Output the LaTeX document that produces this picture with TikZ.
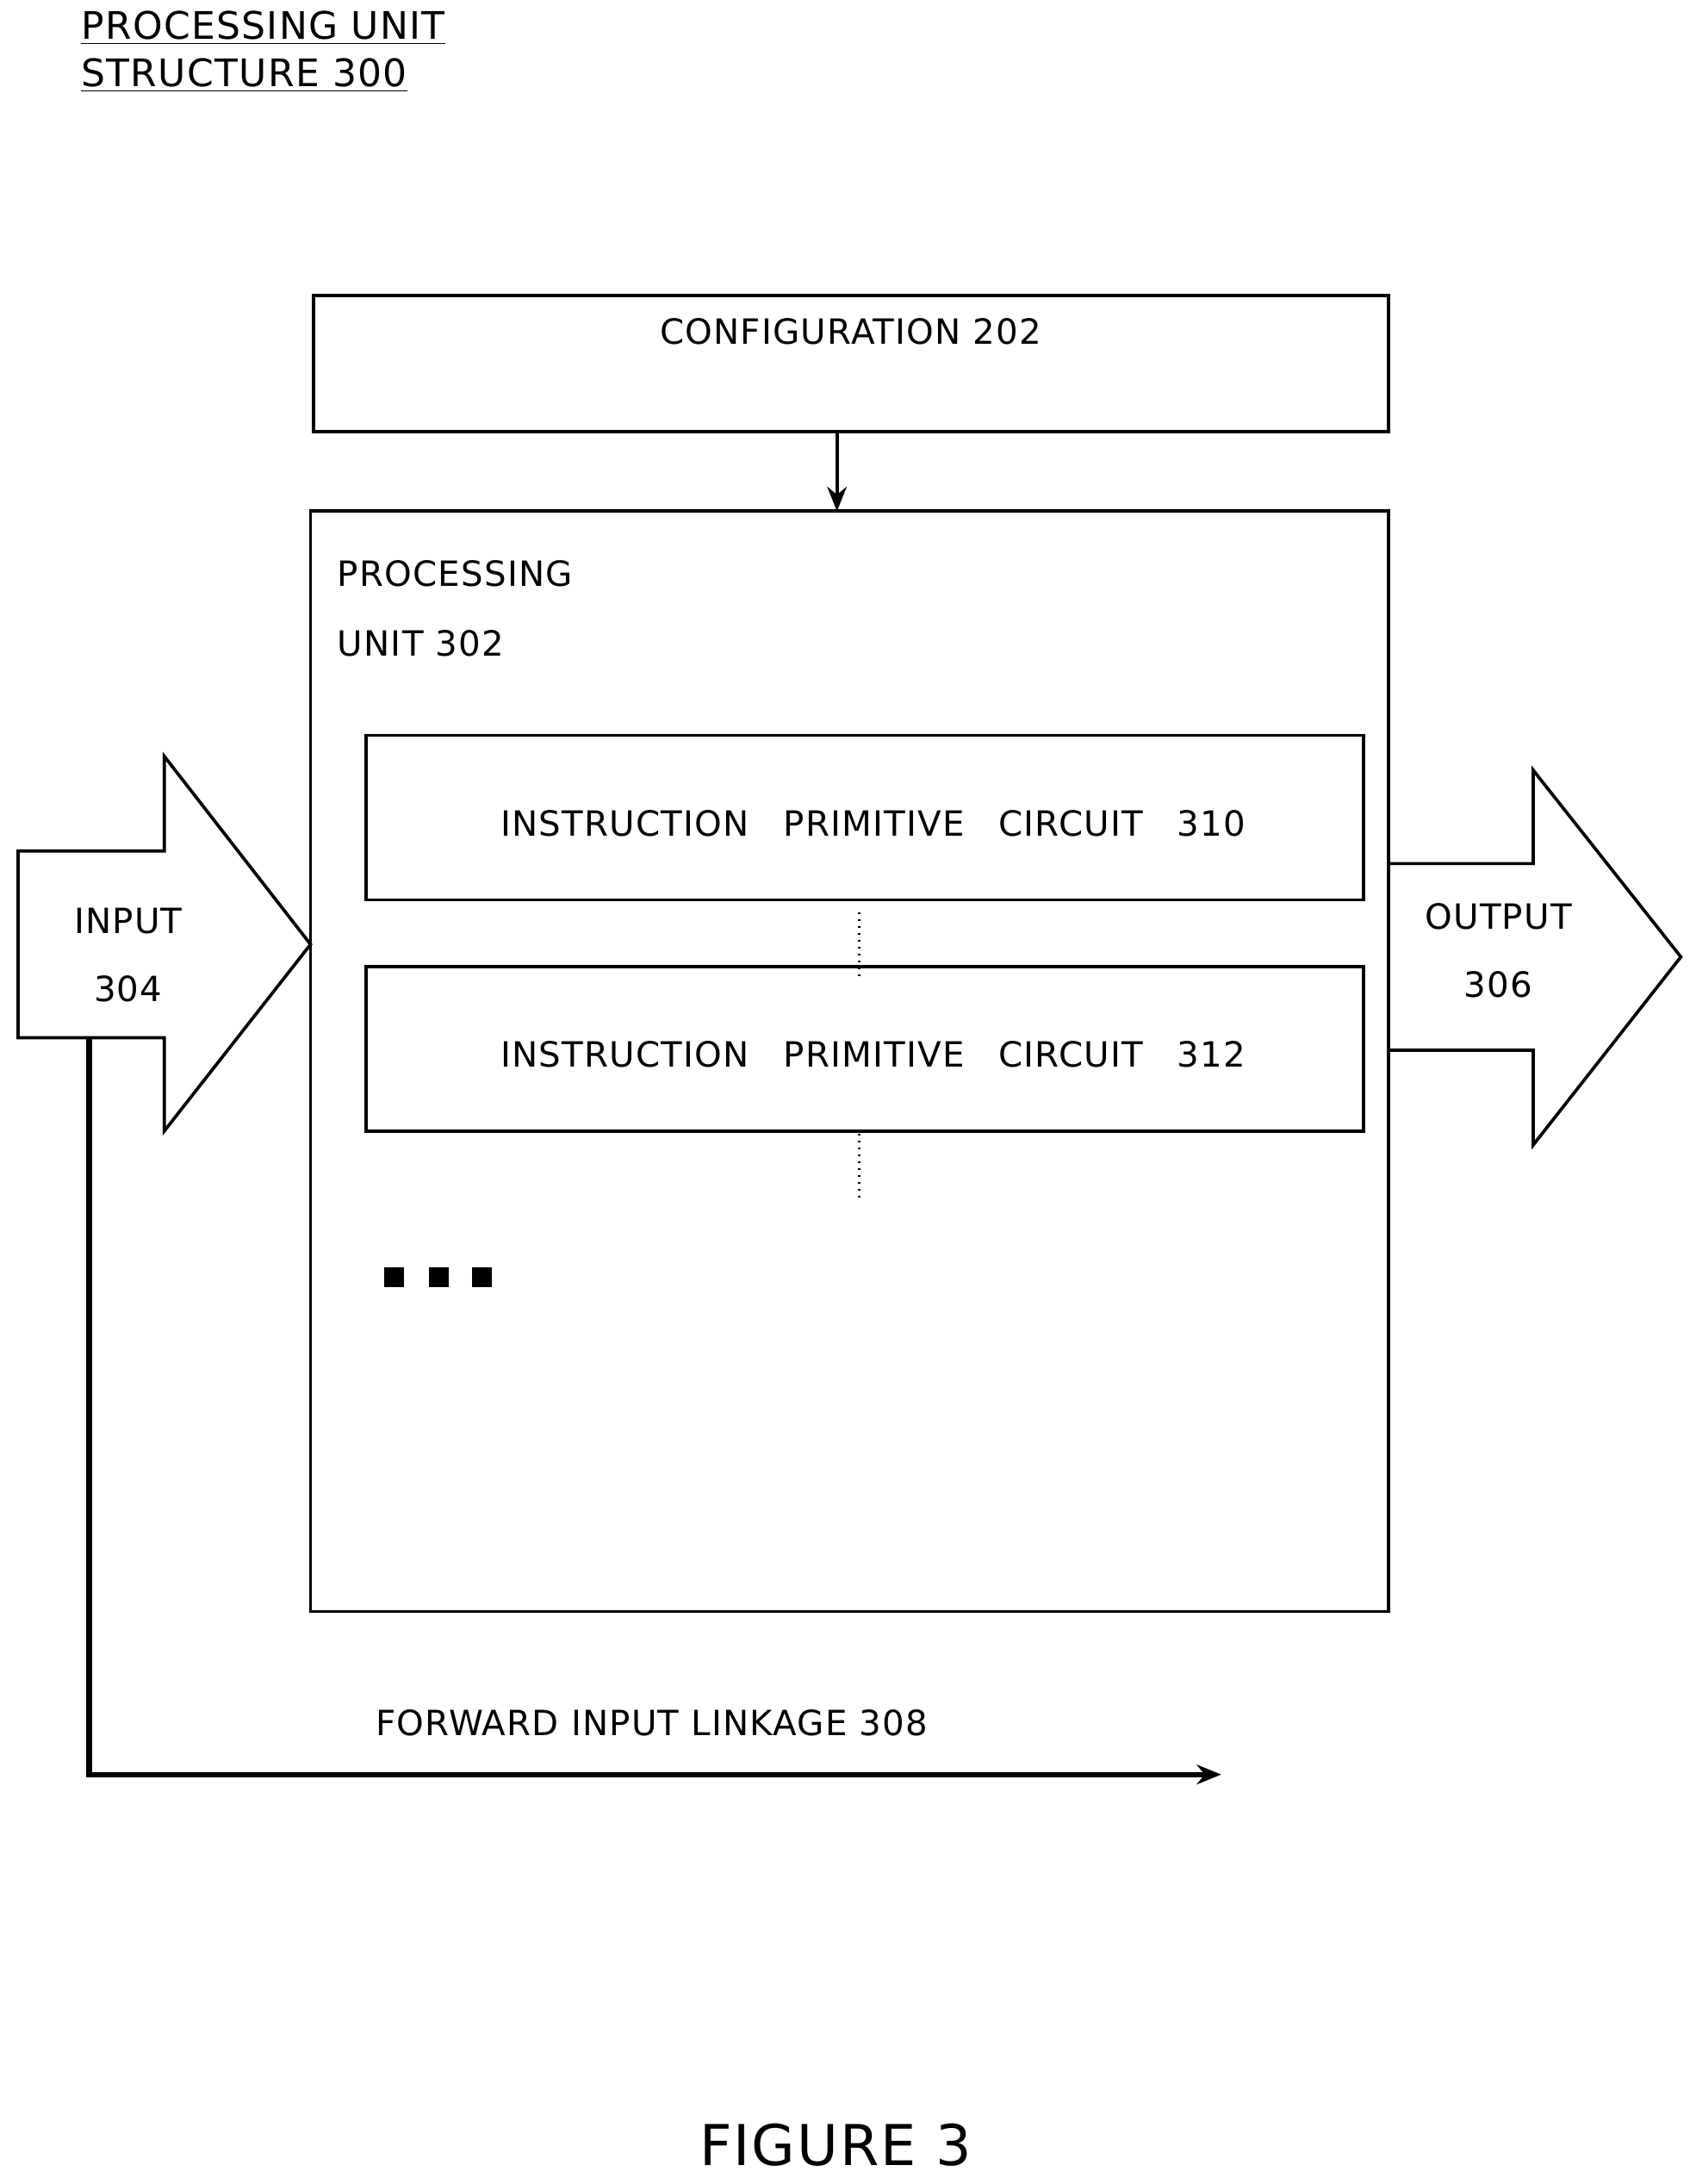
\documentclass[tikz,border=0pt]{standalone}
\usepackage{fontspec}
\setmainfont{DejaVu Sans}[LetterSpace=3]
\usetikzlibrary{arrows.meta}
\newcommand{\gp}{\hspace{14pt}}
\begin{document}
\begin{tikzpicture}[x=0.02cm,y=-0.02cm,
  box/.style={draw,line width=1.3pt},
  lab/.style={font=\fontsize{14.2}{16}\selectfont,inner sep=0pt},
  ttl/.style={font=\fontsize{14.2}{16}\selectfont,inner sep=0pt,anchor=west}]
\useasboundingbox (0,0) rectangle (1213,1568);
\node[ttl,font=\fontsize{15.5}{18}\selectfont] (t1) at (58,20) {\underline{PROCESSING UNIT}};
\node[ttl,font=\fontsize{15.5}{18}\selectfont] (t2) at (58,54) {\underline{STRUCTURE 300}};
\draw[box] (225,212) rectangle (997,310);
\node[lab] (cfg) at (611,238) {CONFIGURATION 202};
\coordinate (ca) at (601,310);
\coordinate (cb) at (601,367);
\draw[line width=1.3pt,-{Stealth[length=10pt,width=8pt]}] (ca) -- (cb);
\draw[box] (223,367) rectangle (997,1157);
\node[ttl] (pu1) at (242,412) {PROCESSING};
\node[ttl] (pu2) at (242,462) {UNIT 302};
\draw[box] (263,528) rectangle (979,646);
\node[lab] (i310) at (627,591) {INSTRUCTION\gp PRIMITIVE\gp CIRCUIT\gp 310};
\draw[box] (263,694) rectangle (979,812);
\node[lab] (i312) at (627,757) {INSTRUCTION\gp PRIMITIVE\gp CIRCUIT\gp 312};
\draw[dotted,line width=0.8pt] (617,655) -- (617,702);
\draw[dotted,line width=0.8pt] (617,814) -- (617,860);
\foreach \x in {283,315,346} \fill (\x-7,910) rectangle (\x+7,924);
\draw[box] (13,611) -- (118,611) -- (118,543) -- (223,678) -- (118,812) -- (118,745) -- (13,745) -- cycle;
\node[lab] (in1) at (92,661) {INPUT};
\node[lab] (in2) at (92,710) {304};
\draw[box] (997,620) -- (1101,620) -- (1101,553) -- (1207,687) -- (1101,822) -- (1101,754) -- (997,754);
\node[lab] (o1) at (1076,658) {OUTPUT};
\node[lab] (o2) at (1076,707) {306};
\coordinate (fa) at (64,745);
\coordinate (fb) at (877,1274);
\draw[line width=2.2pt,-{Stealth[length=10pt,width=8pt]}] (fa) |- (fb);
\node[lab] (fw) at (468,1237) {FORWARD INPUT LINKAGE 308};
\node[inner sep=0pt,font=\fontsize{23}{26}\selectfont] (fig) at (600,1540) {FIGURE 3};
\end{tikzpicture}
\end{document}
